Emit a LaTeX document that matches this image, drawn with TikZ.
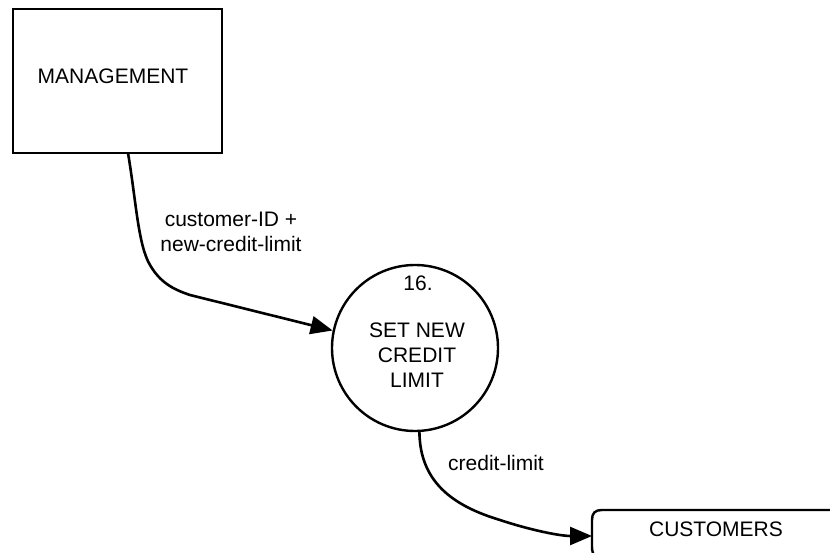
\documentclass[tikz,border=0pt]{standalone}
\usepackage{fontspec}
\setmainfont{Liberation Sans}
\usetikzlibrary{arrows.meta}
\begin{document}
\begin{tikzpicture}[x=1pt,y=-1pt, line width=2.4pt,
  every node/.style={font=\fontsize{21}{25}\selectfont},
  txt/.style={align=center, inner sep=0pt},
  entity/.style={draw, rectangle, minimum width=209pt, minimum height=144pt, inner sep=0pt},
  process/.style={draw, circle, minimum size=166pt, inner sep=0pt},
  flow/.style={-{Triangle[length=22pt,width=18pt]}, line width=2.6pt}]
\useasboundingbox (0,0) rectangle (830,553);
% external entity
\node[entity] (mgmt) at (117.5,81) {};
\node[txt] (mgmtlabel) at (113,76) {MANAGEMENT};
% process
\node[process] (proc) at (415,348) {};
\node[txt] (procnum) at (418,283) {16.};
\node[txt] (procname) at (417,355) {SET NEW\\CREDIT\\LIMIT};
% data store
\coordinate (stL) at (592,536);
\draw (830,510) -- (602,510) .. controls (595,510) and (592,513) .. (592,520) -- (592,547) .. controls (592,551) and (593,553) .. (594,556);
\node[txt] (store) at (716,529) {CUSTOMERS};
% flows
\coordinate (m1) at (128,153);
\draw[flow] (m1) .. controls (136,200) and (138,245) .. (150,265) .. controls (160,282) and (172,289) .. (190,295) -- (proc.168);
\node[txt] (f1) at (231,232) {customer-ID +\\new-credit-limit};
\draw[flow] (proc.273) .. controls (420,480) and (450,505) .. (500,520) .. controls (530,530) and (560,536) .. (stL);
\node[txt] (f2) at (496,463) {credit-limit};
\end{tikzpicture}
\end{document}
